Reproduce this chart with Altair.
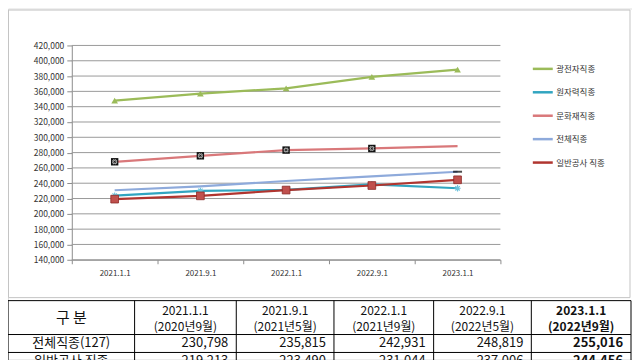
import altair as alt
import pandas as pd

# ---------------- data ----------------
dates = ["2021.1.1", "2021.9.1", "2022.1.1", "2022.9.1", "2023.1.1"]
series_names = ["광전자직종", "원자력직종", "문화재직종", "전체직종", "일반공사 직종"]
gwangjeonja = [348000, 357000, 364000, 379000, 388500]
wonjaryeok = [223800, 230000, 231200, 238600, 233400]
munhwajae = [268000, 275800, 283300, 285400, 288500]
jeonche = [230798, 235815, 242931, 248819, 255016]
ilban = [219213, 223490, 231044, 237006, 244456]
munhwa_marker = [True, True, True, True, False]

y_ticks = list(range(140000, 420001, 20000))

table_header1 = ["구  분", "2021.1.1", "2021.9.1", "2022.1.1", "2022.9.1", "2023.1.1"]
table_header2 = ["", "(2020년9월)", "(2021년5월)", "(2021년9월)", "(2022년5월)", "(2022년9월)"]
table_rows = ["전체직종(127)", "일반공사 직종"]
table_vals = [jeonche, ilban]

colors = ["#9bbb59", "#31a5c0", "#d9787a", "#8eaadb", "#b0352f"]

# ---------------- layout (pixels, relative to chart origin) ----------------
W, H = 626, 352
PX0, PX1 = 64, 494          # plot area x
PY0, PY1 = 37, 252          # plot area y (top, bottom)
col_edges = [0, 127, 229, 327, 427, 525, 625]
T_TOP, T_H1, T_H2, T_BOT = 293, 327, 345, 363
FONT = "Noto Sans CJK KR"

rows = []
for name, vals in zip(series_names, [gwangjeonja, wonjaryeok, munhwajae, jeonche, ilban]):
    for d, v in zip(dates, vals):
        rows.append({"date": d, "series": name, "value": v})
df = pd.DataFrame(rows)
df_m = pd.DataFrame({"date": dates, "value": munhwajae, "show": munhwa_marker})
df_m = df_m[df_m["show"]]

xs = alt.X("date:N", sort=dates,
           scale=alt.Scale(type="band", domain=dates, range=[PX0, PX1], paddingInner=0, paddingOuter=0),
           bandPosition=0.5,
           axis=alt.Axis(orient="bottom", offset=-(H - PY1), tickBand="extent", title=None,
                         labelAngle=0, labelFontSize=8, labelFont=FONT, labelColor="#333",
                         domainColor="#8c8c8c", tickColor="#8c8c8c", tickSize=4, labelPadding=6))
ys = alt.Y("value:Q",
           scale=alt.Scale(domain=[140000, 420000], range=[PY1, PY0], nice=False, zero=False),
           axis=alt.Axis(orient="left", offset=-PX0, values=y_ticks, format=",d", title=None, grid=False,
                         labelFontSize=8.5, labelFont=FONT, labelColor="#333", domainColor="#8c8c8c",
                         tickColor="#8c8c8c", tickSize=5, labelPadding=3))

grid = alt.Chart(pd.DataFrame({"value": y_ticks})).mark_rule(color="#9a9a9a", strokeWidth=1).encode(
    y=ys, x=alt.value(PX0), x2=alt.value(PX1))

lines = alt.Chart(df).mark_line(strokeWidth=2.2).encode(
    x=xs, y=ys,
    color=alt.Color("series:N", sort=series_names,
                    scale=alt.Scale(domain=series_names, range=colors),
                    legend=alt.Legend(orient="none", legendX=525, legendY=49, title=None,
                                      symbolType="stroke", symbolSize=400, symbolStrokeWidth=2.5,
                                      labelFontSize=8.5, labelFont=FONT, labelColor="#333",
                                      rowPadding=6.5, labelOffset=2, padding=0)),
    detail="series:N")

tri = alt.Chart(df[df.series == "광전자직종"]).mark_point(shape="triangle-up", filled=True, size=45,
                                                       color="#9bbb59", opacity=1).encode(x=xs, y=ys)
star = alt.Chart(df[df.series == "원자력직종"]).mark_point(
    shape="M-1,0L1,0M0,-1L0,1M-0.7,-0.7L0.7,0.7M-0.7,0.7L0.7,-0.7",
    filled=False, size=40, color="#6fc4dd", strokeWidth=1.2, opacity=1).encode(x=xs, y=ys)
msq = alt.Chart(df_m).mark_point(shape="square", filled=True, size=55, color="#111", opacity=1).encode(
    x=xs, y=ys)
mx = alt.Chart(df_m).mark_point(shape="cross", filled=False, size=18, color="#aaa", strokeWidth=1,
                                angle=45, opacity=1).encode(x=xs, y=ys)
last_total = alt.Chart(df[(df.series == "전체직종") & (df.date == dates[-1])]).mark_tick(
    color="#000", thickness=2, size=9, orient="horizontal").encode(x=xs, y=ys)
rsq = alt.Chart(df[df.series == "일반공사 직종"]).mark_point(shape="square", filled=True, size=60,
                                                          color="#c0504d", stroke="#8a2a27",
                                                          strokeWidth=0.8, opacity=1).encode(x=xs, y=ys)

chart_part = alt.layer(grid, lines, tri, star, msq, mx, last_total, rsq)

frame = alt.Chart(pd.DataFrame({"a": [0]})).mark_rect(fill=None, stroke="#c4c4c4", strokeWidth=1).encode(
    x=alt.value(0.5), x2=alt.value(624), y=alt.value(1.5), y2=alt.value(290))

# ---------------- table ----------------
hlines = pd.DataFrame({"x": [col_edges[0]] * 3, "x2": [col_edges[-1]] * 3, "y": [T_TOP, T_H1, T_H2]})
hl = alt.Chart(hlines).mark_rule(color="#000", strokeWidth=1).encode(
    x=alt.X("x:Q", scale=None, axis=None), x2="x2:Q", y=alt.Y("y:Q", scale=None, axis=None))
vlines = pd.DataFrame({"x": col_edges, "y": [T_TOP] * len(col_edges), "y2": [T_BOT] * len(col_edges)})
vl = alt.Chart(vlines).mark_rule(color="#000", strokeWidth=1).encode(
    x=alt.X("x:Q", scale=None, axis=None), y=alt.Y("y:Q", scale=None, axis=None), y2="y2:Q")

centers = [(col_edges[i] + col_edges[i + 1]) / 2 for i in range(6)]
hdr = []
for i in range(1, 6):
    hdr.append({"x": centers[i], "y": 303, "t": table_header1[i], "b": "bold" if i == 5 else "normal"})
    hdr.append({"x": centers[i], "y": 319, "t": table_header2[i], "b": "bold" if i == 5 else "normal"})
hdr_df = pd.DataFrame(hdr)
hdr_norm = alt.Chart(hdr_df[hdr_df.b == "normal"]).mark_text(fontSize=12, font=FONT, color="#111",
                                                             baseline="middle").encode(
    x=alt.X("x:Q", scale=None, axis=None), y=alt.Y("y:Q", scale=None, axis=None), text="t:N")
hdr_bold = alt.Chart(hdr_df[hdr_df.b == "bold"]).mark_text(fontSize=12, font=FONT, color="#111",
                                                           fontWeight="bold", baseline="middle").encode(
    x=alt.X("x:Q", scale=None, axis=None), y=alt.Y("y:Q", scale=None, axis=None), text="t:N")
gubun = alt.Chart(pd.DataFrame({"x": [centers[0]], "y": [310], "t": [table_header1[0]]})).mark_text(
    fontSize=15, font=FONT, color="#111", baseline="middle").encode(
    x=alt.X("x:Q", scale=None, axis=None), y=alt.Y("y:Q", scale=None, axis=None), text="t:N")

row_y = [336, 354]
lab = alt.Chart(pd.DataFrame({"x": [centers[0]] * 2, "y": row_y, "t": table_rows})).mark_text(
    fontSize=13, font=FONT, color="#111", baseline="middle").encode(
    x=alt.X("x:Q", scale=None, axis=None), y=alt.Y("y:Q", scale=None, axis=None), text="t:N")
cells = []
for r, vals in enumerate(table_vals):
    for i, v in enumerate(vals):
        cells.append({"x": col_edges[i + 2] - 8, "y": row_y[r], "t": f"{v:,}", "b": "bold" if i == 4 else "normal"})
cells_df = pd.DataFrame(cells)
cell_n = alt.Chart(cells_df[cells_df.b == "normal"]).mark_text(fontSize=13, font=FONT, color="#111",
                                                               align="right", baseline="middle").encode(
    x=alt.X("x:Q", scale=None, axis=None), y=alt.Y("y:Q", scale=None, axis=None), text="t:N")
cell_b = alt.Chart(cells_df[cells_df.b == "bold"]).mark_text(fontSize=13, font=FONT, color="#111",
                                                             fontWeight="bold", align="right",
                                                             baseline="middle").encode(
    x=alt.X("x:Q", scale=None, axis=None), y=alt.Y("y:Q", scale=None, axis=None), text="t:N")

table_part = alt.layer(hl, vl, hdr_norm, hdr_bold, gubun, lab, cell_n, cell_b)

chart = alt.layer(frame, chart_part, table_part).resolve_scale(
    x="independent", y="independent").properties(
    width=W, height=H, padding=0, autosize=alt.AutoSizeParams(type="none")
).configure_view(stroke=None).configure(background="white")

chart.save("out.html", embed_options={"renderer": "svg", "actions": False})
